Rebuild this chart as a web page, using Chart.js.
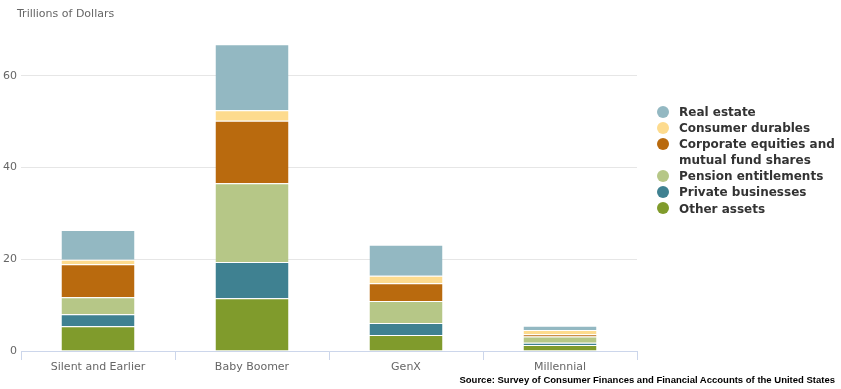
<!DOCTYPE html>
<html>
<head>
<meta charset="utf-8">
<script src="https://cdn.jsdelivr.net/npm/chart.js@4/dist/chart.umd.min.js"></script>
<style>
  html, body { margin: 0; padding: 0; background: #fff; }
  #wrap { position: relative; width: 841px; height: 389px; overflow: hidden; }
  canvas { position: absolute; left: 0; top: 0; }
  #ytitle { position: absolute; left: 17px; top: 7px; font: 11px "DejaVu Sans", sans-serif; color: #666; white-space: nowrap; }
  #source { position: absolute; right: 6px; top: 374px; font: bold 9.5px "Liberation Sans", sans-serif; color: #000; white-space: nowrap; }
  #legend { position: absolute; left: 657px; top: 104px; font: bold 12px "DejaVu Sans", sans-serif; color: #333; }
  .li { position: relative; padding-left: 22px; line-height: 16.1px; }
  .dot { position: absolute; left: 0; top: 1.5px; width: 12px; height: 12px; border-radius: 50%; }
</style>
</head>
<body>
<div id="wrap">
  <canvas id="c" width="841" height="389"></canvas>
  <div id="ytitle">Trillions of Dollars</div>
  <div id="legend"></div>
  <div id="source">Source: Survey of Consumer Finances and Financial Accounts of the United States</div>
</div>
<script>
const categories = ["Silent and Earlier", "Baby Boomer", "GenX", "Millennial"];
const otherAssets        = [5.4, 11.5, 3.5, 1.3];
const privateBusinesses  = [2.6, 7.9, 2.6, 0.5];
const pensionEntitlements= [3.7, 17.2, 4.8, 1.35];
const corporateEquities  = [7.2, 13.6, 3.9, 0.5];
const consumerDurables   = [1.0, 2.3, 1.6, 0.95];
const realEstate         = [6.5, 14.4, 6.75, 0.9];
const yTicks = [0, 20, 40, 60];

const series = [
  { label: "Other assets", data: otherAssets, color: "#809b2c" },
  { label: "Private businesses", data: privateBusinesses, color: "#3f8191" },
  { label: "Pension entitlements", data: pensionEntitlements, color: "#b6c787" },
  { label: ["Corporate equities and", "mutual fund shares"], data: corporateEquities, color: "#b96a0e" },
  { label: "Consumer durables", data: consumerDurables, color: "#fddb8e" },
  { label: "Real estate", data: realEstate, color: "#93b8c2" }
];

const datasets = series.map(s => ({
  label: Array.isArray(s.label) ? s.label.join(" ") : s.label,
  data: s.data,
  backgroundColor: s.color,
  borderColor: "#ffffff",
  borderWidth: { top: 1, left: 0, right: 0, bottom: 0 },
  borderSkipped: false,
  barPercentage: 0.474,
  categoryPercentage: 1.0
}));

// HTML legend (top to bottom = reverse stacking order)
const leg = document.getElementById("legend");
series.slice().reverse().forEach(s => {
  const lines = Array.isArray(s.label) ? s.label : [s.label];
  const div = document.createElement("div");
  div.className = "li";
  const dot = document.createElement("span");
  dot.className = "dot";
  dot.style.background = s.color;
  div.appendChild(dot);
  lines.forEach((t, i) => {
    if (i > 0) div.appendChild(document.createElement("br"));
    div.appendChild(document.createTextNode(t));
  });
  leg.appendChild(div);
});

new Chart(document.getElementById("c"), {
  type: "bar",
  data: { labels: categories, datasets: datasets },
  options: {
    responsive: false,
    animation: false,
    events: [],
    layout: { padding: { left: 0, right: 204, top: 30, bottom: 0 } },
    plugins: { legend: { display: false }, tooltip: { enabled: false }, title: { display: false } },
    scales: {
      x: {
        stacked: true,
        offset: true,
        grid: { display: true, drawOnChartArea: false, drawTicks: true, tickLength: 9, offset: true, color: "#ccd6eb" },
        border: { display: true, color: "#ccd6eb", width: 1 },
        ticks: { color: "#666", font: { family: "DejaVu Sans", size: 11 }, padding: 1, maxRotation: 0, autoSkip: false },
        afterFit: s => { s.height = 38; }
      },
      y: {
        stacked: true,
        min: 0,
        max: 70,
        afterBuildTicks: axis => { axis.ticks = yTicks.map(v => ({ value: v })); },
        grid: { color: "#e6e6e6", drawTicks: false },
        border: { display: false },
        ticks: { color: "#666", font: { family: "DejaVu Sans", size: 11 }, padding: 4 },
        afterFit: s => { s.width = 21; }
      }
    }
  }
});
</script>
</body>
</html>
